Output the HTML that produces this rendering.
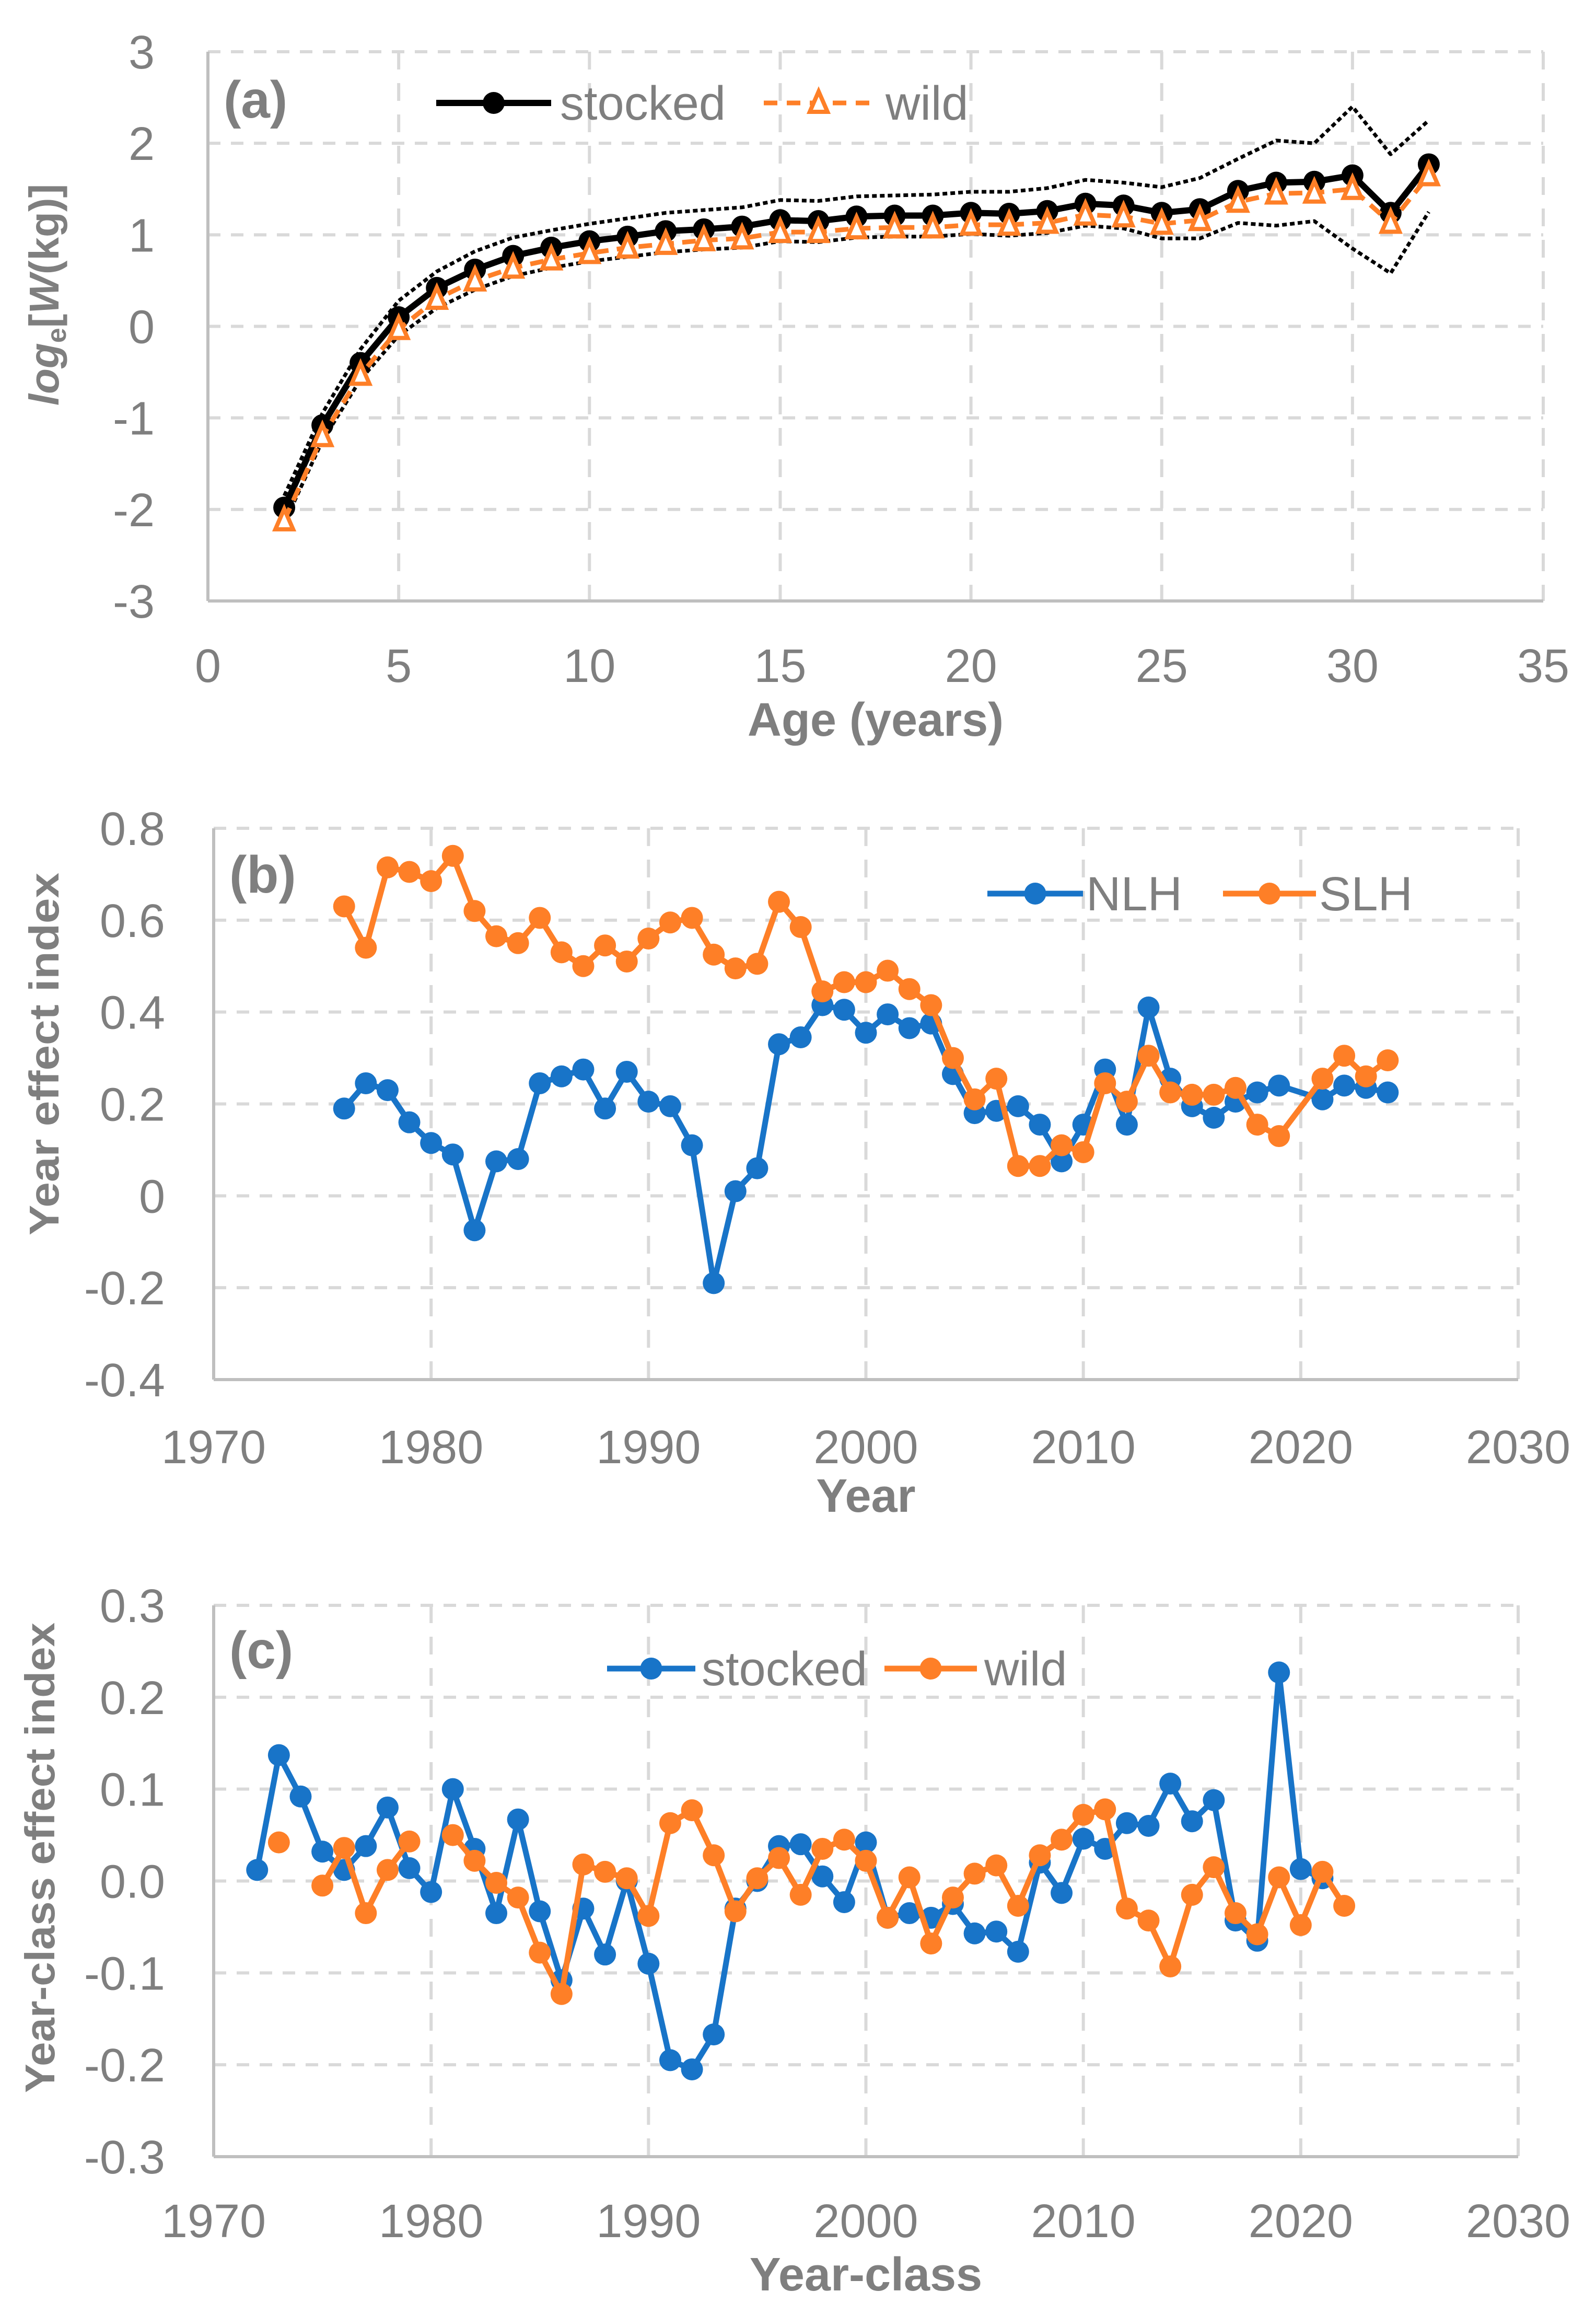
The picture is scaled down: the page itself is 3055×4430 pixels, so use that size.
<!DOCTYPE html>
<html><head><meta charset="utf-8"><style>
html,body{margin:0;padding:0;background:#fff}
svg{display:block}
text{font-family:"Liberation Sans",sans-serif;fill:#7f7f7f}
</style></head><body>
<svg id="chart" width="3055" height="4430" viewBox="0 0 3055 4430" xmlns="http://www.w3.org/2000/svg"></svg>
<script>
// ---- Panel (a) data ----
const agesA = [2,3,4,5,6,7,8,9,10,11,12,13,14,15,16,17,18,19,20,21,22,23,24,25,26,27,28,29,30,31,32];
const stockedA = [-1.98,-1.08,-0.4,0.1,0.42,0.62,0.77,0.86,0.93,0.98,1.04,1.06,1.09,1.16,1.15,1.2,1.21,1.21,1.24,1.23,1.26,1.34,1.32,1.24,1.28,1.48,1.57,1.58,1.65,1.24,1.77];
const wildA = [-2.12,-1.2,-0.53,-0.03,0.3,0.5,0.64,0.73,0.8,0.86,0.9,0.94,0.96,1.03,1.03,1.07,1.08,1.08,1.11,1.11,1.13,1.22,1.2,1.12,1.16,1.36,1.45,1.46,1.5,1.13,1.65];
const upperA = [-1.85,-0.95,-0.25,0.28,0.6,0.82,0.97,1.05,1.12,1.18,1.24,1.27,1.3,1.38,1.37,1.42,1.43,1.44,1.47,1.47,1.51,1.6,1.57,1.52,1.62,1.83,2.03,2.0,2.4,1.88,2.25];
const lowerA = [-2.15,-1.25,-0.58,-0.1,0.2,0.4,0.55,0.64,0.71,0.76,0.81,0.84,0.86,0.93,0.92,0.97,0.98,0.98,1.01,0.99,1.02,1.1,1.07,0.96,0.96,1.13,1.1,1.15,0.85,0.58,1.25];
const xTicksA = [0,5,10,15,20,25,30,35];
const yTicksA = [3,2,1,0,-1,-2,-3];
// ---- Panel (b) data ----
const yearsB = [1976,1977,1978,1979,1980,1981,1982,1983,1984,1985,1986,1987,1988,1989,1990,1991,1992,1993,1994,1995,1996,1997,1998,1999,2000,2001,2002,2003,2004,2005,2006,2007,2008,2009,2010,2011,2012,2013,2014,2015,2016,2017,2018,2019,2021,2022,2023,2024];
const nlhB = [.19,.245,.23,.16,.115,.09,-.075,.075,.08,.245,.26,.275,.19,.27,.205,.195,.11,-.19,.01,.06,.33,.345,.415,.405,.355,.395,.365,.375,.265,.18,.185,.195,.155,.075,.155,.275,.155,.41,.255,.195,.17,.205,.225,.24,.21,.24,.235,.225];
const slhB = [.63,.54,.715,.705,.685,.74,.62,.565,.55,.605,.53,.5,.545,.51,.56,.595,.605,.525,.495,.505,.64,.585,.445,.465,.465,.49,.45,.415,.3,.21,.255,.065,.065,.11,.095,.245,.205,.305,.225,.22,.22,.235,.155,.13,.255,.305,.26,.295];
const xTicksB = [1970,1980,1990,2000,2010,2020,2030];
const yTicksB = ['0.8','0.6','0.4','0.2','0','-0.2','-0.4'];
// ---- Panel (c) data ----
const yearsC = [1972,1973,1974,1975,1976,1977,1978,1979,1980,1981,1982,1983,1984,1985,1986,1987,1988,1989,1990,1991,1992,1993,1994,1995,1996,1997,1998,1999,2000,2001,2002,2003,2004,2005,2006,2007,2008,2009,2010,2011,2012,2013,2014,2015,2016,2017,2018,2019,2020,2021,2022];
const stockedC = [.012,.137,.092,.032,.012,.038,.08,.014,-.012,.1,.035,-.035,.067,-.033,-.108,-.03,-.08,0,-.09,-.195,-.205,-.167,-.03,0,.038,.04,.005,-.023,.042,-.04,-.035,-.04,-.025,-.057,-.055,-.077,.02,-.013,.046,.035,.063,.06,.106,.065,.088,-.043,-.065,.227,.013,.003,null];
const wildC = [null,.042,null,-.005,.036,-.035,.012,.043,null,.05,.022,-.002,-.018,-.078,-.123,.018,.01,.003,-.038,.063,.077,.028,-.033,.003,.025,-.015,.035,.045,.022,-.04,.004,-.068,-.018,.008,.017,-.027,.028,.045,.072,.078,-.03,-.043,-.093,-.015,.015,-.035,-.058,.004,-.048,.01,-.027];
const xTicksC = [1970,1980,1990,2000,2010,2020,2030];
const yTicksC = ['0.3','0.2','0.1','0.0','-0.1','-0.2','-0.3'];

const NS='http://www.w3.org/2000/svg';
const svg=document.getElementById('chart');
function mk(tag,attrs,parent){const e=document.createElementNS(NS,tag);for(const k in attrs)e.setAttribute(k,attrs[k]);(parent||svg).appendChild(e);return e;}
function txt(s,attrs,parent){const e=mk('text',attrs,parent);e.textContent=s;return e;}
const BLUE='#1874c8', ORANGE='#fe7f27', GRID='#d9d9d9';

function panel(cfg){
  const g=mk('g',{});
  
  
  const sx=v=>cfg.x0+(v-cfg.xmin)/(cfg.xmax-cfg.xmin)*(cfg.x1-cfg.x0);
  const sy=v=>cfg.y0+(cfg.ymax-v)/(cfg.ymax-cfg.ymin)*(cfg.y1-cfg.y0);
  cfg.xt.forEach(t=>{ if(t===cfg.xmin) return;
    const l=mk('line',{x1:sx(t),x2:sx(t),y1:cfg.y0,y2:cfg.y1,stroke:GRID,'stroke-width':6,'stroke-dasharray':'34 26'},g);
     
  });
  cfg.yt.forEach(t=>{ const v=parseFloat(t); if(v===cfg.ymin) return;
    const l=mk('line',{x1:cfg.x0,x2:cfg.x1,y1:sy(v),y2:sy(v),stroke:GRID,'stroke-width':6,'stroke-dasharray':'24 20'},g);
     
  });
  const ax=mk('line',{x1:cfg.x0,x2:cfg.x1,y1:cfg.y1,y2:cfg.y1,stroke:'#bfbfbf','stroke-width':6},g);
   
  const ay=mk('line',{x1:cfg.x0,x2:cfg.x0,y1:cfg.y0,y2:cfg.y1,stroke:'#bfbfbf','stroke-width':6},g);
   
  cfg.xt.forEach(t=>{ const e=txt(String(t),{x:sx(t),y:cfg.xlabY,'font-size':90,'text-anchor':'middle'},g);
     });
  cfg.yt.forEach(t=>{ const e=txt(String(t),{x:cfg.ylabX,y:sy(parseFloat(t))+32,'font-size':90,'text-anchor':'end'},g);
     });
  const xt=txt(cfg.xtitle,{x:(cfg.x0+cfg.x1)/2,y:cfg.xtitleY,'font-size':90,'font-weight':'bold','text-anchor':'middle'},g);
   
  const pl=txt(cfg.label,{x:cfg.x0+30,y:cfg.labelY,'font-size':100,'font-weight':'bold'},g);
   
  return {g,sx,sy};
}
function series(p,xs,ys,color,name,opts){
  opts=opts||{};
  const g=mk('g',{},p.g);
  
  
  let d='',pen=false;
  xs.forEach((x,i)=>{const v=ys[i]; if(v===null){pen=false;return;} d+=(pen?'L':'M')+p.sx(x).toFixed(1)+' '+p.sy(v).toFixed(1)+' '; pen=true;});
  const path=mk('path',{d:d,fill:'none',stroke:color,'stroke-width':opts.w||11,'stroke-linejoin':'round','stroke-dasharray':opts.dash||'none'},g);
  
  
  if(opts.marker===false) return;
  xs.forEach((x,i)=>{const v=ys[i]; if(v===null) return;
    let m;
    if(opts.marker==='tri'){
      const cx=p.sx(x),cy=p.sy(v);
      m=mk('polygon',{points:`${cx},${cy-22} ${cx-17},${cy+17} ${cx+17},${cy+17}`,fill:'#fff',stroke:color,'stroke-width':8},g);
    } else {
      m=mk('circle',{cx:p.sx(x),cy:p.sy(v),r:opts.r||21,fill:color},g);
    }
    
    
  });
}
function legend(parent,x1,x2,y,color,label,tx,opts){
  opts=opts||{};
  const g=mk('g',{},parent);
  
  
  mk('line',{x1:x1,x2:x2,y1:y,y2:y,stroke:color,'stroke-width':opts.w||11,'stroke-dasharray':opts.dash||'none'},g);
  const cx=(x1+x2)/2;
  if(opts.marker==='tri') mk('polygon',{points:`${cx},${y-22} ${cx-17},${y+17} ${cx+17},${y+17}`,fill:'#fff',stroke:color,'stroke-width':8},g);
  else mk('circle',{cx:cx,cy:y,r:21,fill:color},g);
  txt(label,{x:tx,y:y+32,'font-size':92},g);
}
function yTitle(s,x,cy,len){
  const e=txt(s,{x:0,y:0,'font-size':80,'font-weight':'bold','text-anchor':'middle',textLength:len,lengthAdjust:'spacingAndGlyphs',transform:`translate(${x},${cy}) rotate(-90)`});
   
  return e;
}

// Panel a
const pa=panel({name:'panel-a',x0:398,x1:2954,y0:99,y1:1150,xmin:0,xmax:35,ymin:-3,ymax:3,xt:xTicksA,yt:yTicksA.map(String),xlabY:1305,ylabX:296,xtitle:'Age (years)',xtitleY:1408,label:'(a)',labelY:225});
series(pa,agesA,upperA,'#000','upper-ci',{w:7,dash:'9 6',marker:false});
series(pa,agesA,lowerA,'#000','lower-ci',{w:7,dash:'9 6',marker:false});
series(pa,agesA,stockedA,'#000','stocked-series',{w:12,r:21});
series(pa,agesA,wildA,ORANGE,'wild-series',{w:9,dash:'26 16',marker:'tri'});
legend(pa.g,835,1055,197,'#000','stocked',1072,{w:12});
legend(pa.g,1462,1672,197,ORANGE,'wild',1695,{w:9,dash:'26 18',marker:'tri'});
const ya=txt('',{x:0,y:0,'font-size':80,'font-weight':'bold','font-style':'italic','text-anchor':'middle',transform:'translate(112,564) rotate(-90)'});
 
ya.innerHTML='log<tspan font-size="52" dy="14" font-style="normal">e</tspan><tspan dy="-14" font-style="normal">[</tspan>W<tspan font-style="normal">(kg)]</tspan>';

// Panel b
const pb=panel({name:'panel-b',x0:409,x1:2906,y0:1585,y1:2640,xmin:1970,xmax:2030,ymin:-0.4,ymax:0.8,xt:xTicksB,yt:yTicksB,xlabY:2800,ylabX:316,xtitle:'Year',xtitleY:2893,label:'(b)',labelY:1708});
series(pb,yearsB,nlhB,BLUE,'nlh-series');
series(pb,yearsB,slhB,ORANGE,'slh-series');
legend(pb.g,1890,2073,1710,BLUE,'NLH',2079);
legend(pb.g,2341,2519,1710,ORANGE,'SLH',2525);
yTitle('Year effect index',112,2017,694);

// Panel c
const pc=panel({name:'panel-c',x0:409,x1:2906,y0:3072,y1:4127,xmin:1970,xmax:2030,ymin:-0.3,ymax:0.3,xt:xTicksC,yt:yTicksC,xlabY:4281,ylabX:316,xtitle:'Year-class',xtitleY:4383,label:'(c)',labelY:3192});
series(pc,yearsC,stockedC,BLUE,'stocked-series');
series(pc,yearsC,wildC,ORANGE,'wild-series');
legend(pc.g,1162,1331,3193,BLUE,'stocked',1343);
legend(pc.g,1693,1870,3193,ORANGE,'wild',1884);
yTitle('Year-class effect index',104,3555,900);
</script>
</body></html>
